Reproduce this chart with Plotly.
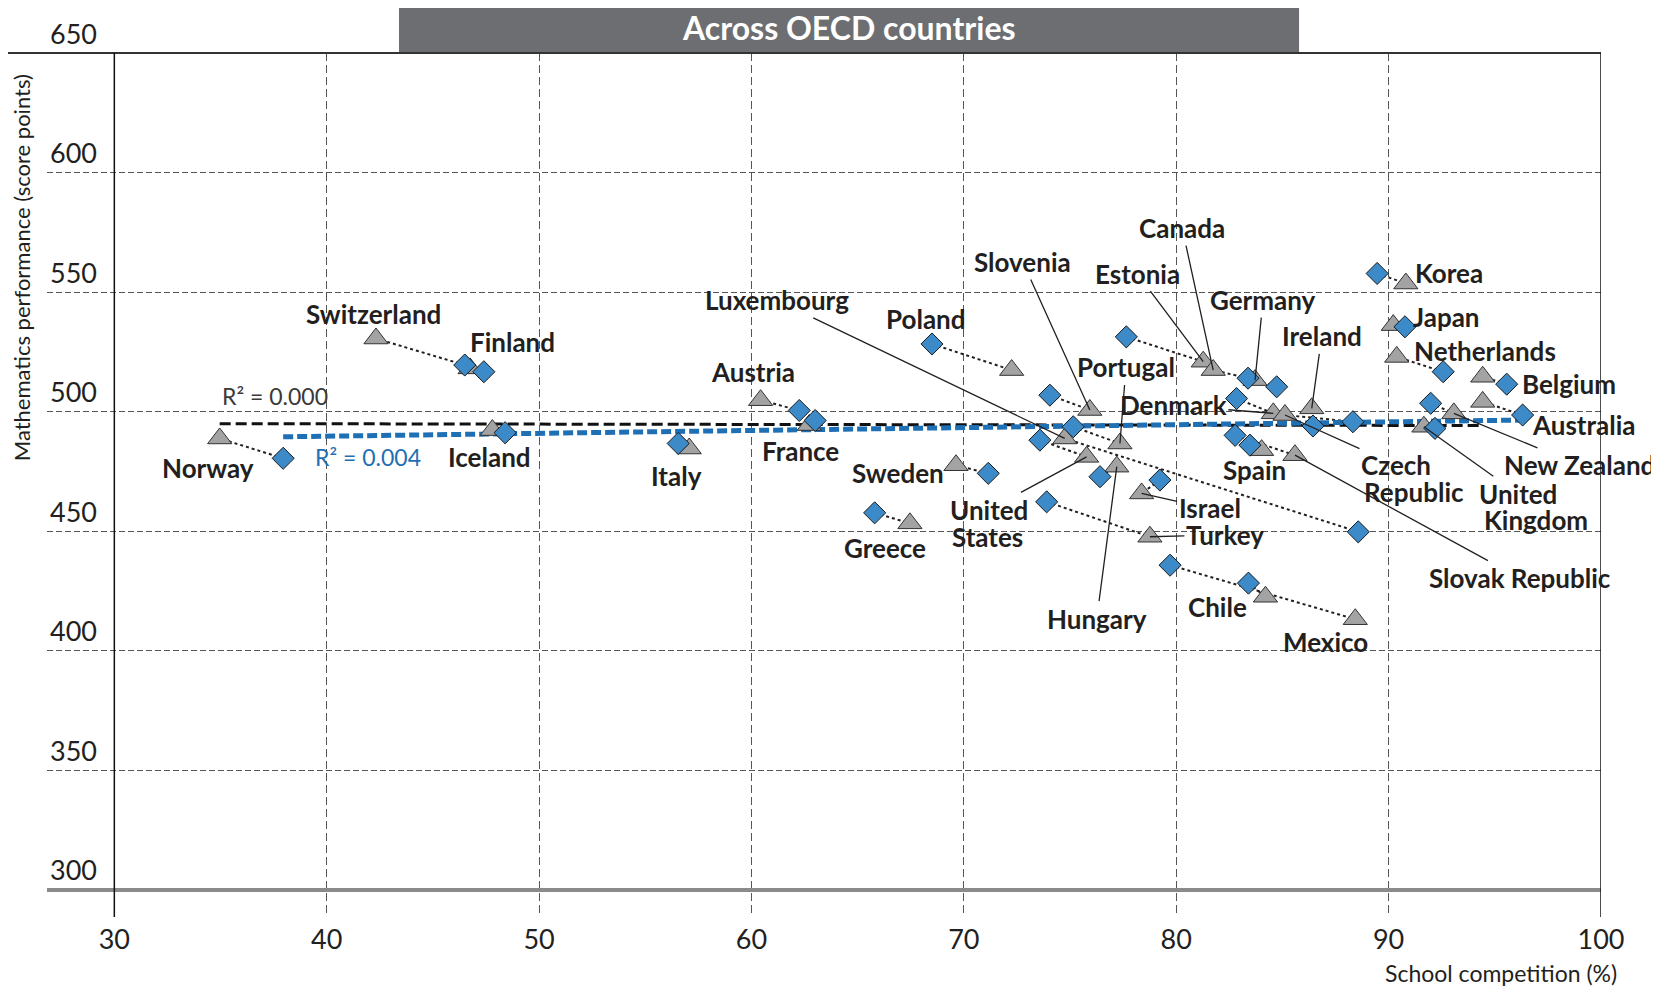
import plotly.graph_objects as go

# ---------------- data ----------------
countries = ["Norway", "Switzerland", "Finland", "Iceland", "Italy", "Austria", "France",
             "Poland", "Sweden", "Greece", "Slovenia", "Luxembourg", "United States",
             "Portugal", "Hungary", "Israel", "Turkey", "Estonia", "Canada", "Germany",
             "Denmark", "Czech Republic", "Ireland", "Spain", "Slovak Republic", "Mexico",
             "Chile", "Korea", "Japan", "Netherlands", "Belgium", "Australia",
             "New Zealand", "United Kingdom"]

# grey triangles
tri_x = [34.96, 42.32, 46.75, 47.8, 57.07, 60.43, 62.72, 72.25, 69.63, 67.46, 75.93, 74.75,
         75.78, 77.35, 77.2, 78.37, 78.76, 81.27, 81.74, 83.71, 84.57, 85.12, 86.38, 84.02,
         85.59, 88.43, 84.2, 90.81, 90.22, 90.38, 94.43, 94.43, 93.07, 91.66]
tri_y = [488.8, 530.6, 518.1, 492.3, 484.6, 504.8, 494.4, 517.4, 477.6, 453.3, 500.7, 488.8,
         481.1, 486.7, 477.0, 465.8, 447.7, 520.9, 517.4, 513.2, 499.3, 498.6, 501.4, 483.9,
         481.8, 413.2, 422.6, 553.6, 536.2, 522.9, 514.6, 504.1, 499.3, 493.7]

# blue diamonds
dia_x = [37.95, 46.5, 47.4, 48.4, 56.55, 62.25, 63.0, 68.5, 71.15, 65.8, 74.05, 88.57,
         73.58, 75.15, 76.41, 79.23, 73.9, 77.65, 83.38, 84.73, 82.84, 88.32, 86.44, 83.47,
         82.77, 79.71, 83.4, 89.46, 90.77, 92.57, 95.56, 96.31, 91.98, 92.18]
dia_y = [480.5, 519.5, 516.7, 491.2, 486.7, 500.5, 496.3, 528.3, 474.2, 457.7, 506.9, 449.75,
         488.1, 493.7, 472.8, 471.4, 462.3, 531.3, 514.0, 510.4, 505.5, 495.8, 494.0, 486.0,
         490.1, 435.8, 428.3, 557.8, 535.5, 516.7, 511.5, 498.6, 503.5, 493.0]

# fitted trend lines (end points)
trend_tri_x = [34.96, 94.43]
trend_tri_y = [495.0, 494.2]
trend_dia_x = [37.95, 96.31]
trend_dia_y = [489.5, 496.5]
r2_tri = "R² = 0.000"
r2_dia = "R² = 0.004"

x_ticks = [30, 40, 50, 60, 70, 80, 90, 100]
y_ticks = [300, 350, 400, 450, 500, 550, 600, 650]

title_text = "Across OECD countries"
y_title = "Mathematics performance (score points)"
x_title = "School competition (%)"

# ---------------- label styling ----------------
# (anchor marker, dx px, dy px, leader line, first line text, second line or None)
# second line: (text, xanchor, xshift px, dy px)
label_style = {
    "Norway": ("t", -12, 30, False, "Norway", None),
    "Switzerland": ("t", -2, -25, False, "Switzerland", None),
    "Finland": ("t", 42, -26, False, "Finland", None),
    "Iceland": ("t", -3, 27, False, "Iceland", None),
    "Italy": ("t", -13, 27, False, "Italy", None),
    "Austria": ("t", -8, -28, False, "Austria", None),
    "France": ("t", -9, 26, False, "France", None),
    "Poland": ("d", -6, -25, False, "Poland", None),
    "Sweden": ("t", -58, 8, False, "Sweden", None),
    "Greece": ("t", -25, 25, False, "Greece", None),
    "Spain": ("t", -7, 20, False, "Spain", None),
    "Korea": ("t", 43, -11, False, "Korea", None),
    "Japan": ("t", 53, -8, False, "Japan", None),
    "Netherlands": ("t", 88, -6, False, "Netherlands", None),
    "Belgium": ("t", 86, 7, False, "Belgium", None),
    "Australia": ("t", 101, 23, False, "Australia", None),
    "Chile": ("t", -48, 10, False, "Chile", None),
    "Mexico": ("t", -30, 23, False, "Mexico", None),
    "Slovenia": ("t", -67, -148, True, "Slovenia", None),
    "Luxembourg": ("t", -288, -138, True, "Luxembourg", None),
    "Estonia": ("t", -66, -88, True, "Estonia", None),
    "Canada": ("t", -31, -142, True, "Canada", None),
    "Germany": ("t", 8, -80, True, "Germany", None),
    "Ireland": ("t", 10, -72, True, "Ireland", None),
    "Portugal": ("t", 6, -76, True, "Portugal", None),
    "Denmark": ("t", -100, -8, True, "Denmark", None),
    "Czech Republic": ("t", 111, 50, True, "Czech", ("Republic", "left", 77, 77)),
    "Slovak Republic": ("t", 225, 123, True, "Slovak Republic", None),
    "Israel": ("t", 68, 15, True, "Israel", None),
    "Turkey": ("t", 75, -2, True, "Turkey", None),
    "Hungary": ("t", -20, 152, True, "Hungary", None),
    "United States": ("t", -98, 53, True, "United", ("States", "center", -99, 80)),
    "New Zealand": ("t", 126, 52, True, "New Zealand", None),
    "United Kingdom": ("t", 94, 67, True, "United", ("Kingdom", "left", 58, 93)),
}

TXT = "#231f20"
FONT = "Lato"
LABEL_FONT = dict(family=FONT, size=26, color=TXT, weight="bold")

fig = go.Figure()

# dotted connectors between the two markers of each country
cx, cy = [], []
for i in range(len(countries)):
    cx += [dia_x[i], tri_x[i], None]
    cy += [dia_y[i], tri_y[i], None]
fig.add_trace(go.Scatter(x=cx, y=cy, mode="lines",
                         line=dict(color="#231f20", width=2, dash="dot"),
                         hoverinfo="skip"))

# trend lines
fig.add_trace(go.Scatter(x=trend_tri_x, y=trend_tri_y, mode="lines",
                         line=dict(color="#111111", width=3, dash="11px,5px")))
fig.add_trace(go.Scatter(x=trend_dia_x, y=trend_dia_y, mode="lines",
                         line=dict(color="#1f6fb5", width=5, dash="10px,4px")))

# markers
fig.add_trace(go.Scatter(x=tri_x, y=tri_y, mode="markers", text=countries,
                         marker=dict(symbol="triangle-up", size=21, color="#a3a3a3",
                                     line=dict(color="#333333", width=1))))
fig.add_trace(go.Scatter(x=dia_x, y=dia_y, mode="markers", text=countries,
                         marker=dict(symbol="diamond", size=17, color="#3d8ac8",
                                     line=dict(color="#1a1a1a", width=1))))

annotations = []
for i, c in enumerate(countries):
    anchor, dx, dy, leader, txt, line2 = label_style[c]
    px = tri_x[i] if anchor == "t" else dia_x[i]
    py = tri_y[i] if anchor == "t" else dia_y[i]
    base = dict(x=px, y=py, xref="x", yref="y", text=txt, font=LABEL_FONT)
    if leader:
        base.update(showarrow=True, arrowhead=0, arrowwidth=1.3, arrowcolor=TXT,
                    ax=dx, ay=dy, standoff=0)
    else:
        base.update(showarrow=False, xshift=dx, yshift=-dy)
    annotations.append(base)
    if line2 is not None:
        t2, xa, xs, dy2 = line2
        annotations.append(dict(x=px, y=py, xref="x", yref="y", text=t2, font=LABEL_FONT,
                                showarrow=False, xanchor=xa, yanchor="middle",
                                xshift=xs, yshift=-dy2))

# R² labels
annotations.append(dict(x=37.57, y=506.5, xref="x", yref="y", text=r2_tri, showarrow=False,
                        font=dict(family=FONT, size=23, color="#3a3a3a")))
annotations.append(dict(x=41.94, y=481.1, xref="x", yref="y", text=r2_dia, showarrow=False,
                        font=dict(family=FONT, size=23, color="#1f6fb5")))

# title inside dark box
annotations.append(dict(x=0.516, y=1.030, xref="paper", yref="paper", text=title_text,
                        xanchor="center", yanchor="middle", showarrow=False,
                        font=dict(family=FONT, size=32, color="white", weight="bold")))
# axis titles
annotations.append(dict(x=-0.0167, y=0.751, xref="paper", yref="paper", text=y_title,
                        xanchor="center", yanchor="middle",
                        textangle=-90, showarrow=False,
                        font=dict(family=FONT, size=22, color=TXT)))
annotations.append(dict(x=1.0116, y=-0.065, xref="paper", yref="paper", text=x_title,
                        xanchor="right", yanchor="middle", showarrow=False,
                        font=dict(family=FONT, size=23, color=TXT)))

shapes = [
    # title box
    dict(type="rect", xref="paper", yref="paper", x0=0.2265, x1=0.8057, y0=1.0, y1=1.0567,
         fillcolor="#6d6e71", line=dict(width=0), layer="below"),
    # top rule at 650
    dict(type="line", xref="paper", yref="paper", x0=-0.0279, x1=1.0, y0=1.0, y1=1.0,
         line=dict(color="#333333", width=2)),
    # baseline at 300
    dict(type="line", xref="paper", yref="y", x0=0.0, x1=1.0, y0=y_ticks[0], y1=y_ticks[0],
         line=dict(color="#8a8a8a", width=4)),
    # y axis line at 30 and right border at 100
    dict(type="line", xref="x", yref="paper", x0=x_ticks[0], x1=x_ticks[0], y0=0, y1=1,
         line=dict(color="#111111", width=1.5)),
    dict(type="line", xref="x", yref="paper", x0=x_ticks[-1], x1=x_ticks[-1], y0=0, y1=1,
         line=dict(color="#111111", width=1.5)),
]

# the page body adds an 8px offset; size/margins compensate so the plot area lands in place
fig.update_layout(
    width=1651, height=979,
    margin=dict(l=39, r=58, t=45, b=70),
    paper_bgcolor="white", plot_bgcolor="white",
    showlegend=False,
    annotations=annotations,
    shapes=shapes,
    xaxis=dict(range=[26.83, 100], tickvals=x_ticks, ticktext=[str(v) for v in x_ticks],
               showgrid=True, gridcolor="#555555", gridwidth=1, griddash="8px,4px",
               zeroline=False, showline=False, ticks="", automargin=False,
               tickfont=dict(family=FONT, size=27, color=TXT), ticklabelstandoff=4),
    yaxis=dict(range=[288.67, 650], tickvals=y_ticks, ticktext=[str(v) for v in y_ticks],
               showgrid=True, gridcolor="#555555", gridwidth=1, griddash="6px,3px",
               zeroline=False, showline=False, ticks="", automargin=False,
               ticklabelposition="inside top", ticklabeloverflow="allow",
               tickfont=dict(family=FONT, size=27, color=TXT)),
    font=dict(family=FONT),
)

fig.write_html("out.html")
